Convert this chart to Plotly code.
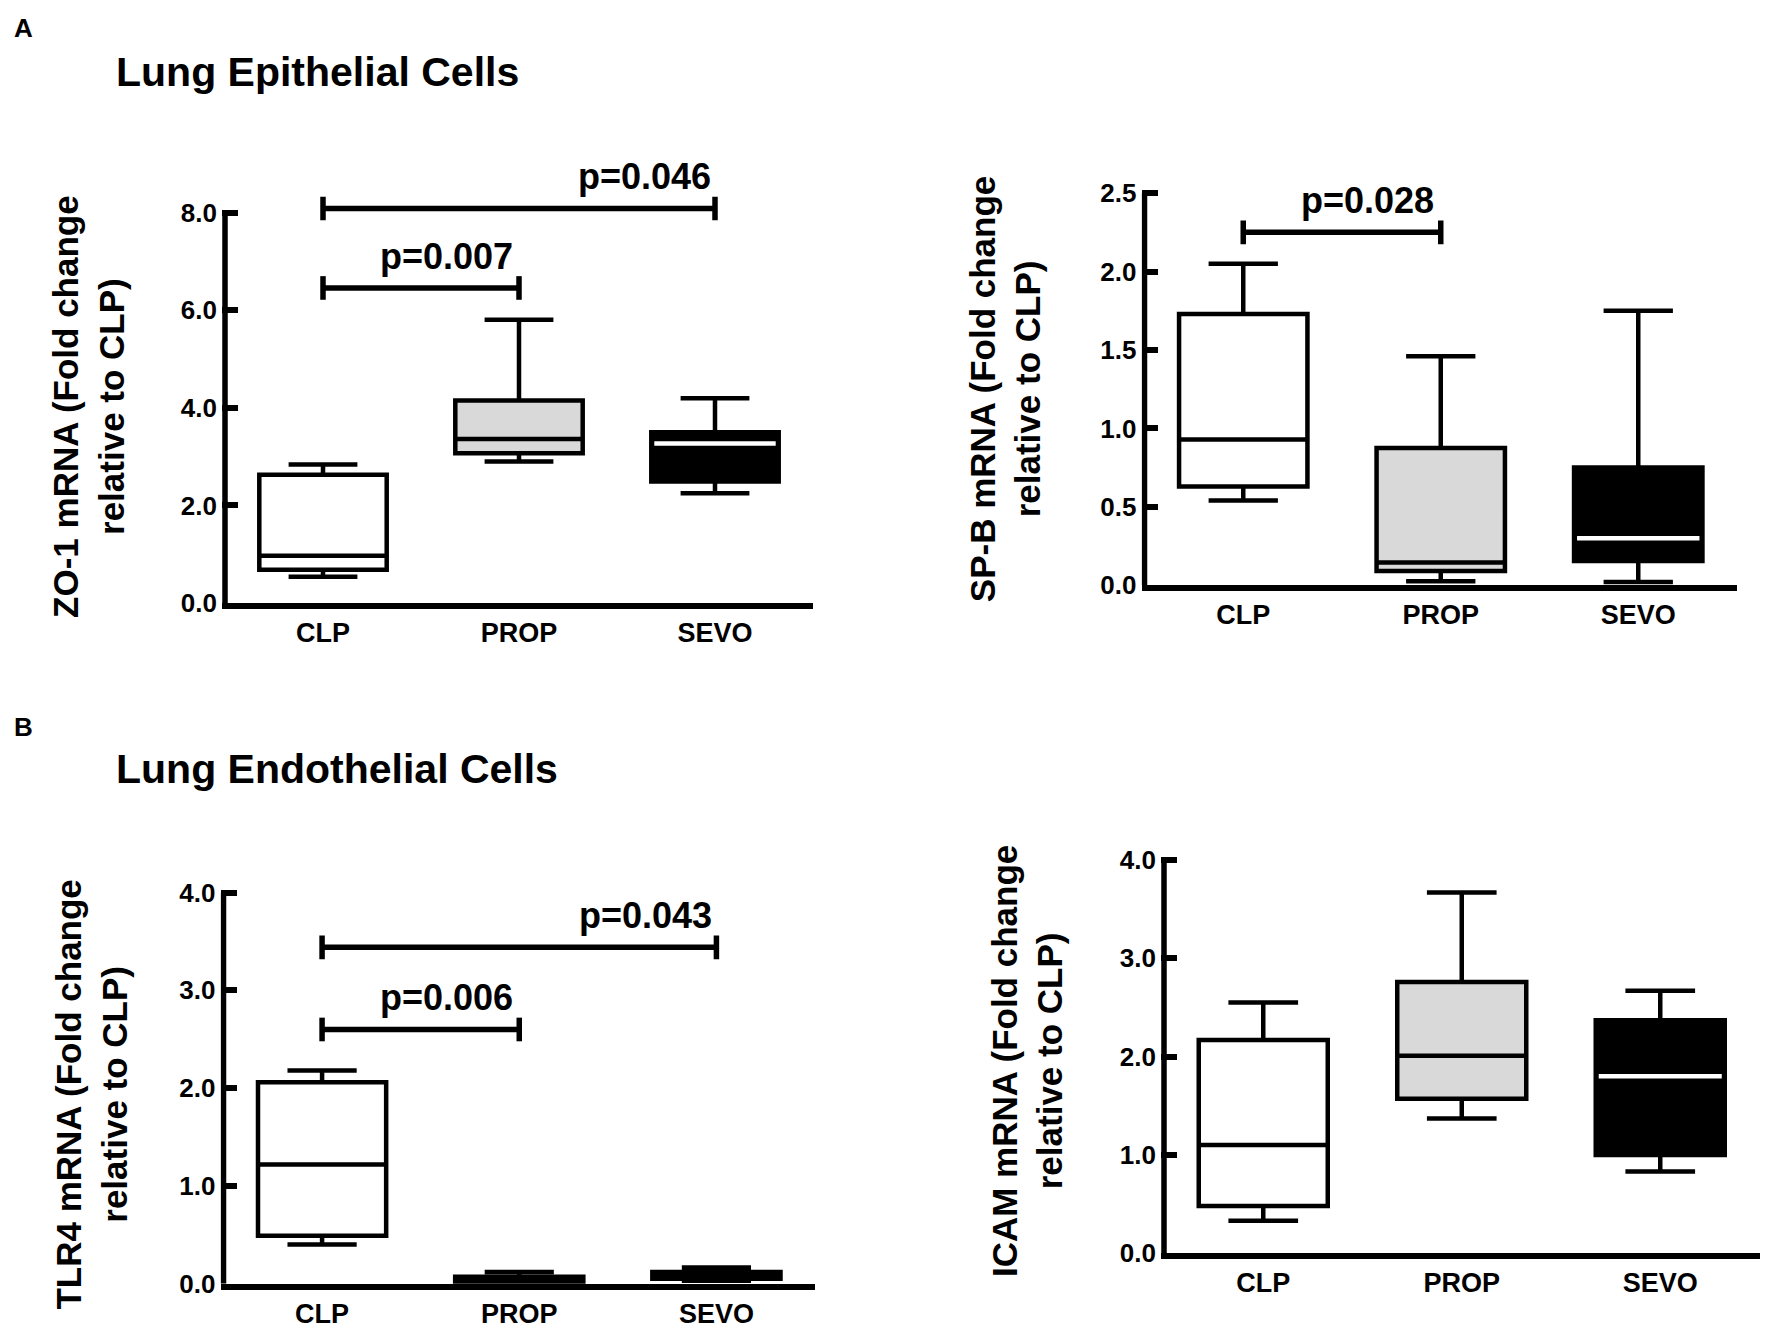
import plotly.graph_objects as go

# groups on every panel
groups = ["CLP", "PROP", "SEVO"]
fills = ["#ffffff", "#d9d9d9", "#000000"]

# ZO-1 (lung epithelial)
zo1_low = [0.54, 2.90, 2.25]
zo1_q1 = [0.68, 3.07, 2.49]
zo1_med = [0.97, 3.36, 3.27]
zo1_q3 = [2.63, 4.15, 3.50]
zo1_high = [2.84, 5.81, 4.20]

# SP-B (lung epithelial)
spb_low = [0.54, 0.025, 0.02]
spb_q1 = [0.63, 0.09, 0.155]
spb_med = [0.93, 0.145, 0.30]
spb_q3 = [1.73, 0.875, 0.75]
spb_high = [2.05, 1.46, 1.75]

# TLR4 (lung endothelial)
tlr4_low = [0.40, 0.01, 0.03]
tlr4_q1 = [0.49, 0.02, 0.05]
tlr4_med = [1.22, 0.04, 0.08]
tlr4_q3 = [2.06, 0.07, 0.12]
tlr4_high = [2.18, 0.12, 0.165]

# ICAM (lung endothelial)
icam_low = [0.33, 1.37, 0.83]
icam_q1 = [0.48, 1.57, 1.00]
icam_med = [1.10, 2.01, 1.80]
icam_q3 = [2.17, 2.76, 2.37]
icam_high = [2.55, 3.67, 2.67]

# significance brackets: (from group, to group, height, label)
zo1_pvals = [(0, 1, 6.46, "p=0.007"), (0, 2, 8.09, "p=0.046")]
spb_pvals = [(0, 1, 2.25, "p=0.028")]
tlr4_pvals = [(0, 1, 2.60, "p=0.006"), (0, 2, 3.44, "p=0.043")]
icam_pvals = []

W, H = 1772, 1344
FONT = "Liberation Sans, Arial, Helvetica, sans-serif"
BOX_W = 0.65

panels = [
    dict(name="ZO-1 mRNA (Fold change<br>relative to CLP)",
         stats=(zo1_low, zo1_q1, zo1_med, zo1_q3, zo1_high), pvals=zo1_pvals,
         ticks=[0, 2, 4, 6, 8], ymax=9.6,
         spine=225, end=813, y0=607, ytop=211, label=(89, 408),
         white_med=[False, False, True]),
    dict(name="SP-B mRNA (Fold change<br>relative to CLP)",
         stats=(spb_low, spb_q1, spb_med, spb_q3, spb_high), pvals=spb_pvals,
         ticks=[0, 0.5, 1.0, 1.5, 2.0, 2.5], ymax=2.65,
         spine=1144.5, end=1737, y0=589, ytop=191, label=(1005, 389),
         white_med=[False, False, True]),
    dict(name="TLR4 mRNA (Fold change<br>relative to CLP)",
         stats=(tlr4_low, tlr4_q1, tlr4_med, tlr4_q3, tlr4_high), pvals=tlr4_pvals,
         ticks=[0, 1, 2, 3, 4], ymax=4.1,
         spine=223.5, end=815, y0=1298, ytop=901, label=(92, 1106),
         white_med=[False, False, False]),
    dict(name="ICAM mRNA (Fold change<br>relative to CLP)",
         stats=(icam_low, icam_q1, icam_med, icam_q3, icam_high), pvals=icam_pvals,
         ticks=[0, 1, 2, 3, 4], ymax=4.1,
         spine=1164, end=1759.5, y0=1267, ytop=868, label=(1027, 1072),
         white_med=[False, False, True]),
]

fig = go.Figure()
shapes = []
annotations = []

for k, p in enumerate(panels, 1):
    xa = "x" if k == 1 else f"x{k}"
    ya = "y" if k == 1 else f"y{k}"
    ux = (p["end"] - p["spine"]) / 3.0
    uy = (p["y0"] - p["ytop"]) / p["ticks"][-1]
    eps = 3.0 / ux

    low, q1, med, q3, high = p["stats"]
    for i, g in enumerate(groups):
        fig.add_trace(go.Box(
            x=[i], q1=[q1[i]], median=[med[i]], q3=[q3[i]],
            lowerfence=[low[i]], upperfence=[high[i]],
            width=BOX_W, whiskerwidth=0.54, boxpoints=False,
            fillcolor=fills[i], line=dict(color="black", width=4.5),
            hoverinfo="skip", name=g, xaxis=xa, yaxis=ya))
        if p["white_med"][i]:
            d = 3.0 / ux
            shapes.append(dict(type="line", xref=xa, yref=ya,
                               x0=i - BOX_W / 2 + d, x1=i + BOX_W / 2 - d,
                               y0=med[i], y1=med[i],
                               line=dict(color="white", width=4.5)))

    # y spine stops at the last tick
    shapes.append(dict(type="line", xref=xa, yref=ya, x0=-0.5, x1=-0.5,
                       y0=0, y1=p["ticks"][-1],
                       line=dict(color="black", width=5.5)))

    # brackets
    cap = 12.0 / uy
    for a, b, yv, txt in p["pvals"]:
        shapes.append(dict(type="line", xref=xa, yref=ya, x0=a, x1=b,
                           y0=yv, y1=yv, line=dict(color="black", width=5.5)))
        for xv in (a, b):
            shapes.append(dict(type="line", xref=xa, yref=ya, x0=xv, x1=xv,
                               y0=yv - cap, y1=yv + cap,
                               line=dict(color="black", width=5.5)))
        if b - a == 1:
            ax, anc = a + 0.63, "center"
        else:
            ax, anc = b - 0.01, "right"
        annotations.append(dict(xref=xa, yref=ya, x=ax, y=yv, text=txt,
                                showarrow=False, xanchor=anc, yanchor="bottom",
                                yshift=9,
                                font=dict(family=FONT, size=36, color="black",
                                          weight="bold")))

    annotations.append(dict(xref="paper", yref="paper",
                            x=p["label"][0] / W, y=1 - p["label"][1] / H,
                            text=p["name"], textangle=-90, showarrow=False,
                            xanchor="center", yanchor="middle",
                            font=dict(family=FONT, size=35, color="black",
                                      weight="bold")))

    xkey = "xaxis" if k == 1 else f"xaxis{k}"
    ykey = "yaxis" if k == 1 else f"yaxis{k}"
    fig.update_layout({
        xkey: dict(domain=[(p["spine"] - 3) / W, p["end"] / W],
                   range=[-0.5 - eps, 2.5], anchor=ya,
                   tickvals=[0, 1, 2], ticktext=groups, ticks="",
                   showline=True, linecolor="black", linewidth=5.5,
                   showgrid=False, zeroline=False, ticklabelstandoff=1,
                   tickfont=dict(family=FONT, size=27, color="black",
                                 weight="bold")),
        ykey: dict(domain=[1 - p["y0"] / H,
                           1 - (p["y0"] - p["ymax"] * uy) / H],
                   range=[0, p["ymax"]], anchor=xa,
                   tickvals=p["ticks"],
                   ticktext=["{:.1f}".format(t) for t in p["ticks"]],
                   ticks="inside", ticklen=16, tickwidth=5.5,
                   tickcolor="black", showline=False, showgrid=False,
                   zeroline=False, ticklabelstandoff=4,
                   tickfont=dict(family=FONT, size=26, color="black",
                                 weight="bold")),
    })

# panel letters and section titles
for txt, x, y, size in [("A", 23, 23, 26), ("B", 23, 733, 26),
                        ("Lung Epithelial Cells", 114, 68, 41),
                        ("Lung Endothelial Cells", 114, 776, 41)]:
    annotations.append(dict(xref="paper", yref="paper", x=x / W, y=1 - y / H,
                            text=txt, showarrow=False,
                            xanchor="center" if len(txt) == 1 else "left",
                            yanchor="middle",
                            font=dict(family=FONT, size=size, color="black",
                                      weight="bold")))

fig.update_layout(
    width=W, height=H,
    margin=dict(l=0, r=0, t=0, b=0),
    paper_bgcolor="white", plot_bgcolor="white",
    showlegend=False, boxmode="overlay",
    shapes=shapes, annotations=annotations,
)

fig.write_html("out.html", config={"displayModeBar": False},
               post_script="document.body.style.margin = '0px';")
